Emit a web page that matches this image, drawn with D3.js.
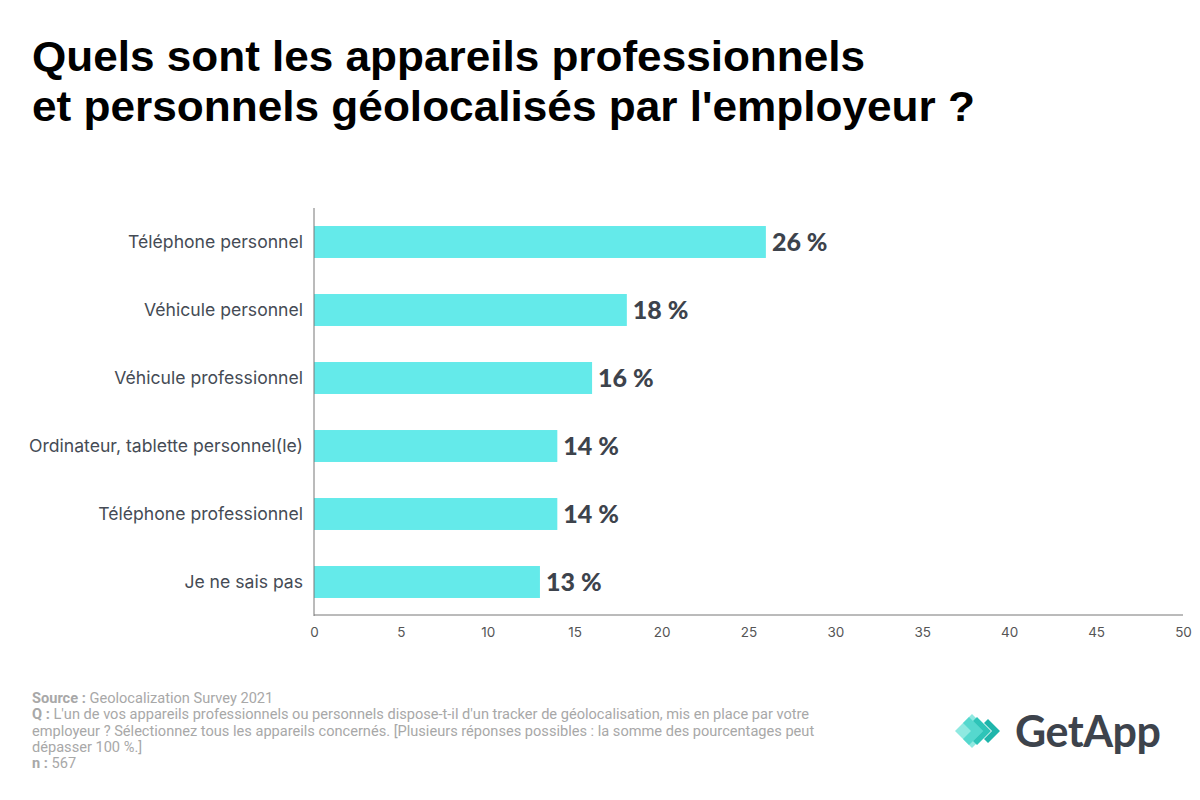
<!DOCTYPE html>
<html><head><meta charset="utf-8">
<script src="https://cdn.jsdelivr.net/npm/d3@7"></script>
<style>body{margin:0;background:#fff}</style>
</head><body>
<svg id="chart" width="1200" height="800"></svg>
<script>
const categories = ["Téléphone personnel","Véhicule personnel","Véhicule professionnel","Ordinateur, tablette personnel(le)","Téléphone professionnel","Je ne sais pas"];
const values = [26,18,16,14,14,13];
const xTicks = [0,5,10,15,20,25,30,35,40,45,50];
const titleLines = ["Quels sont les appareils professionnels","et personnels géolocalisés par l'employeur ?"];

const svg = d3.select("#chart");
const titleWidths = [833, 943];
svg.selectAll("text.title").data(titleLines).join("text")
  .attr("class","title")
  .attr("x",32).attr("y",(d,i)=>71+i*50)
  .attr("font-family","Liberation Sans, Arial, sans-serif").attr("font-weight","bold")
  .attr("font-size",42).attr("fill","#000")
  .attr("textLength",(d,i)=>titleWidths[i]).attr("lengthAdjust","spacingAndGlyphs")
  .text(d=>d);

const x0=314, x1=1183, yTop=208, yBot=616;
const x = d3.scaleLinear().domain([0,50]).range([x0,x1]);
const y = d3.scaleBand().domain(categories).range([yTop,yBot]).paddingInner(0.53).paddingOuter(0.265);

svg.selectAll("rect.bar").data(values).join("rect")
  .attr("class","bar")
  .attr("x",x(0)).attr("y",(d,i)=>y(categories[i]))
  .attr("width",d=>x(d)-x(0)).attr("height",y.bandwidth()).attr("fill","#64eaea");

svg.selectAll("text.val").data(values).join("text")
  .attr("class","val")
  .attr("x",d=>x(d)+6).attr("y",(d,i)=>y(categories[i])+y.bandwidth()/2+9)
  .attr("font-family","Lato, sans-serif").attr("font-weight","900").attr("font-size",25)
  .attr("fill","#3d434c").text(d=>d+" %");

const yAxis = svg.append("g").attr("transform",`translate(${x0},0)`)
  .call(d3.axisLeft(y).tickSize(0).tickPadding(11));
yAxis.select(".domain").attr("stroke","#777").attr("d",`M0,${yTop}V${yBot}`);
yAxis.selectAll("text").attr("font-family","Inter, sans-serif").attr("font-size",17.6).attr("fill","#454b55");

const xAxis = svg.append("g").attr("transform",`translate(0,${yBot-1})`)
  .call(d3.axisBottom(x).tickValues(xTicks).tickSize(0).tickPadding(12));
xAxis.select(".domain").attr("stroke","#777").attr("d",`M${x0},0H${x1}`);
xAxis.selectAll("text").attr("font-family","Inter, sans-serif").attr("font-size",13.5).attr("fill","#555");

const foot = [
  ["Source : ","Geolocalization Survey 2021"],
  ["Q : ","L'un de vos appareils professionnels ou personnels dispose-t-il d'un tracker de géolocalisation, mis en place par votre"],
  ["","employeur ? Sélectionnez tous les appareils concernés. [Plusieurs réponses possibles : la somme des pourcentages peut"],
  ["","dépasser 100 %.]"],
  ["n : ","567"]
];
const ft = svg.selectAll("text.foot").data(foot).join("text")
  .attr("class","foot")
  .attr("x",32).attr("y",(d,i)=>703+i*16.3)
  .attr("font-family","Roboto, sans-serif").attr("font-size",14.6).attr("fill","#a8a8a8");
ft.append("tspan").attr("font-weight","bold").text(d=>d[0]);
ft.append("tspan").text(d=>d[1]);

// logo
const lg = svg.append("g").attr("transform","translate(955,731)");
lg.append("path").attr("d","M0,0 L17,-17 L34,0 L17,17 Z").attr("fill","#8fe9e1");
lg.append("path").attr("d","M14,-14 L28,0 L14,14 L8,8 L16,0 L8,-8 Z").attr("fill","#4fd6cc").attr("opacity",0.9);
lg.append("path").attr("d","M22,-14 L36,0 L22,14 L18,10 L28,0 L18,-10 Z").attr("fill","#2ec4b8");
lg.append("path").attr("d","M33,-12 L45,0 L33,12 L29,8 L37,0 L29,-8 Z").attr("fill","#1fb5ab");
svg.append("text").attr("x",1015).attr("y",747).attr("font-family","Lato, sans-serif").attr("font-weight","bold")
  .attr("font-size",43).attr("fill","#3d434c").attr("letter-spacing",-0.5).text("GetApp");
</script>
</body></html>
